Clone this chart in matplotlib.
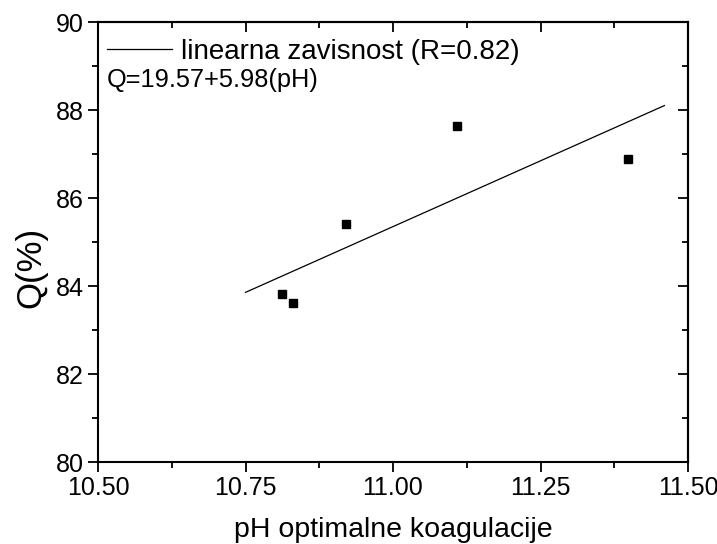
import matplotlib
matplotlib.use("Agg")
import matplotlib.pyplot as plt
import numpy as np
from matplotlib.ticker import MultipleLocator

plt.rcParams['font.family'] = ['Liberation Sans', 'DejaVu Sans']

ph = [10.812, 10.830, 10.920, 11.108, 11.398]
q = [83.82, 83.61, 85.41, 87.64, 86.89]
fit_intercept = 19.57
fit_slope = 5.98
fit_x = [10.75, 11.46]
fit_label = "linearna zavisnost (R=0.82)"
eq_text = "Q=19.57+5.98(pH)"
xlabel = "pH optimalne koagulacije"
ylabel = "Q(%)"

fig = plt.figure(figsize=(7.17, 5.44), dpi=100)
ax = fig.add_axes([98/717, 1-462/544, (688-98)/717, (462-22)/544])

fx = np.array(fit_x)
ax.plot(fx, fit_intercept + fit_slope*fx, color='black', lw=0.9, label=fit_label)
ax.plot(ph, q, linestyle='none', marker='s', ms=6.2, color='black')

ax.set_xlim(10.5, 11.5)
ax.set_ylim(80, 90)
ax.xaxis.set_major_locator(MultipleLocator(0.25))
ax.xaxis.set_minor_locator(MultipleLocator(0.125))
ax.yaxis.set_major_locator(MultipleLocator(2))
ax.yaxis.set_minor_locator(MultipleLocator(1))
ax.xaxis.set_major_formatter(matplotlib.ticker.FormatStrFormatter('%.2f'))

for s in ax.spines.values():
    s.set_linewidth(1.5)

ax.tick_params(which='both', direction='out', width=1.3, labelsize=18, pad=3,
               top=False, right=False)
ax.tick_params(which='major', length=7)
ax.tick_params(which='minor', length=4)

# mirrored inward ticks on top and right
secx = ax.secondary_xaxis('top')
secx.xaxis.set_major_locator(MultipleLocator(0.25))
secx.xaxis.set_minor_locator(MultipleLocator(0.125))
secx.tick_params(which='both', direction='in', width=1.3, labeltop=False)
secx.tick_params(which='major', length=7)
secx.tick_params(which='minor', length=4)
secy = ax.secondary_yaxis('right')
secy.yaxis.set_major_locator(MultipleLocator(2))
secy.yaxis.set_minor_locator(MultipleLocator(1))
secy.tick_params(which='both', direction='in', width=1.3, labelright=False)
secy.tick_params(which='major', length=7)
secy.tick_params(which='minor', length=4)
secx.spines['top'].set_linewidth(1.5)
secy.spines['right'].set_linewidth(1.5)

ax.set_xlabel(xlabel, fontsize=20.5, labelpad=12)
ax.set_ylabel(ylabel, fontsize=25)
ax.yaxis.set_label_coords(-0.086, 0.443)

leg = ax.legend(loc='center left', bbox_to_anchor=(0.0153, 0.932), frameon=False,
                fontsize=20, handlelength=2.35, handletextpad=0.3,
                borderaxespad=0.0, borderpad=0.0)
ax.text(0.0153, 0.869, eq_text, transform=ax.transAxes, fontsize=18.3,
        va='center', ha='left')

fig.savefig("out.png", dpi=100)
